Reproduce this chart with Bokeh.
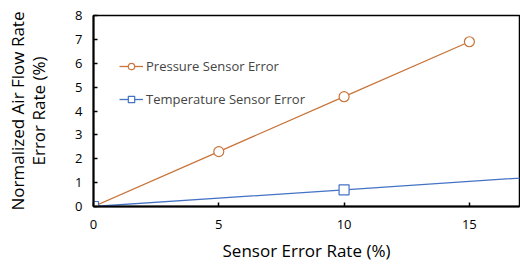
from bokeh.plotting import figure
from bokeh.models import Range1d, FixedTicker, Legend, LegendItem, Title
from bokeh.embed import file_html
from bokeh.resources import INLINE

sensor_error = [0, 5, 10, 15]
pressure_err = [0, 2.3, 4.6, 6.9]
temp_x = [0, 10, 20]
temp_err = [0, 0.7, 1.4]
x_ticks = [0, 5, 10, 15]
y_ticks = [0, 1, 2, 3, 4, 5, 6, 7, 8]

ORANGE = "#C8743A"
BLUE = "#4472C4"
FONT = "Open Sans"

p = figure(width=520, height=264, output_backend="svg", toolbar_location=None,
           x_range=Range1d(0, 17), y_range=Range1d(0, 8),
           min_border_left=93, min_border_right=1, min_border_top=15, min_border_bottom=57)
p.grid.visible = False
p.outline_line_color = "black"
p.outline_line_width = 1.5

for ax in (p.xaxis[0], p.yaxis[0]):
    ax.axis_line_width = 2
    ax.axis_line_color = "black"
    ax.major_tick_in = 4
    ax.major_tick_out = 0
    ax.minor_tick_in = 0
    ax.minor_tick_out = 0
    ax.major_tick_line_width = 1.5
    ax.major_label_text_font = FONT
    ax.major_label_text_font_size = "13px"
    ax.major_label_text_color = "black"
    ax.axis_label_text_font = FONT
    ax.axis_label_text_font_size = "17px"
    ax.axis_label_text_font_style = "normal"
    ax.axis_label_text_color = "black"

p.xaxis.ticker = FixedTicker(ticks=x_ticks)
p.yaxis.ticker = FixedTicker(ticks=y_ticks)
p.xaxis.axis_label = "Sensor Error Rate (%)"
p.yaxis.axis_label = "Error Rate (%)"
p.xaxis.major_label_standoff = 13
p.yaxis.major_label_standoff = 11
p.xaxis.axis_label_standoff = 7
p.yaxis.axis_label_standoff = 22

ytitle = Title(text="Normalized Air Flow Rate", align="center", text_font=FONT,
               text_font_size="17px", text_font_style="normal", text_color="black",
               standoff=-8, offset=0)
p.add_layout(ytitle, "left")

l1 = p.line(sensor_error, pressure_err, line_color=ORANGE, line_width=1.3)
m1 = p.scatter(sensor_error, pressure_err, marker="circle", size=10,
               fill_color="white", line_color=ORANGE, line_width=1.2)
l2 = p.line(temp_x, temp_err, line_color=BLUE, line_width=1.3)
m2 = p.scatter(temp_x, temp_err, marker="square", size=10,
               fill_color="white", line_color=BLUE, line_width=1.2)

legend = Legend(items=[LegendItem(label="Pressure Sensor Error", renderers=[l1, m1]),
                       LegendItem(label="Temperature Sensor Error", renderers=[l2, m2])],
                location=(26, 98), border_line_color=None, background_fill_alpha=0,
                padding=0, margin=0, spacing=15, glyph_width=24, glyph_height=16,
                label_height=16, label_standoff=3,
                label_text_font=FONT, label_text_font_size="13px")
p.add_layout(legend)

open("out.html", "w").write(file_html(p, INLINE))
